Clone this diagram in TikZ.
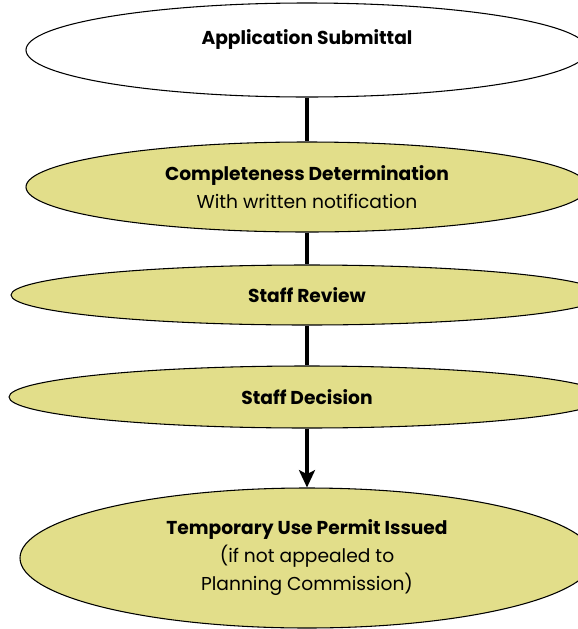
\documentclass[tikz,border=0pt]{standalone}
\usepackage{fontspec}
\setmainfont{Poppins}
\usepackage{tikz}
\usetikzlibrary{shapes.geometric, arrows.meta}
\definecolor{khaki}{RGB}{226,222,138}
\tikzstyle{woval}=[ellipse, draw=black, line width=.8pt, fill=white, inner sep=0pt]
\tikzstyle{oval}=[ellipse, draw=black, line width=.8pt, fill=khaki, inner sep=0pt, align=center]
\tikzstyle{link}=[line width=2.3pt, black]

\begin{document}
\begin{tikzpicture}[x=.75pt, y=-.75pt, font=\fontsize{14}{21}\selectfont]
    \useasboundingbox (0,0) rectangle (578,629);
    \clip (0,0) rectangle (578,629);
    \node[woval, minimum width=421.5pt, minimum height=70.5pt,
      label={[yshift=7.5pt]center:\textbf{Application Submittal}}] (sub) at (307,50) {};
    \node[oval, minimum width=421.5pt, minimum height=67.5pt] (compl) at (307,187)
      {\textbf{Completeness Determination}\\With written notification};
    \node[oval, minimum width=444pt, minimum height=45pt] (review) at (307,295)
      {\textbf{Staff Review}};
    \node[oval, minimum width=447pt, minimum height=46.5pt] (decision) at (307,397)
      {\textbf{Staff Decision}};
    \node[oval, minimum width=430.5pt, minimum height=105pt] (issued) at (307,558)
      {\textbf{Temporary Use Permit Issued}\\(if not appealed to\\Planning Commission)};
    \foreach \from/\to in {sub/compl, compl/review, review/decision}
      \draw[link] (\from) -- (\to);
    \draw[link, -{Stealth[length=13pt, width=12pt, inset=3pt]}] (decision) -- (issued);
\end{tikzpicture}
\end{document}
